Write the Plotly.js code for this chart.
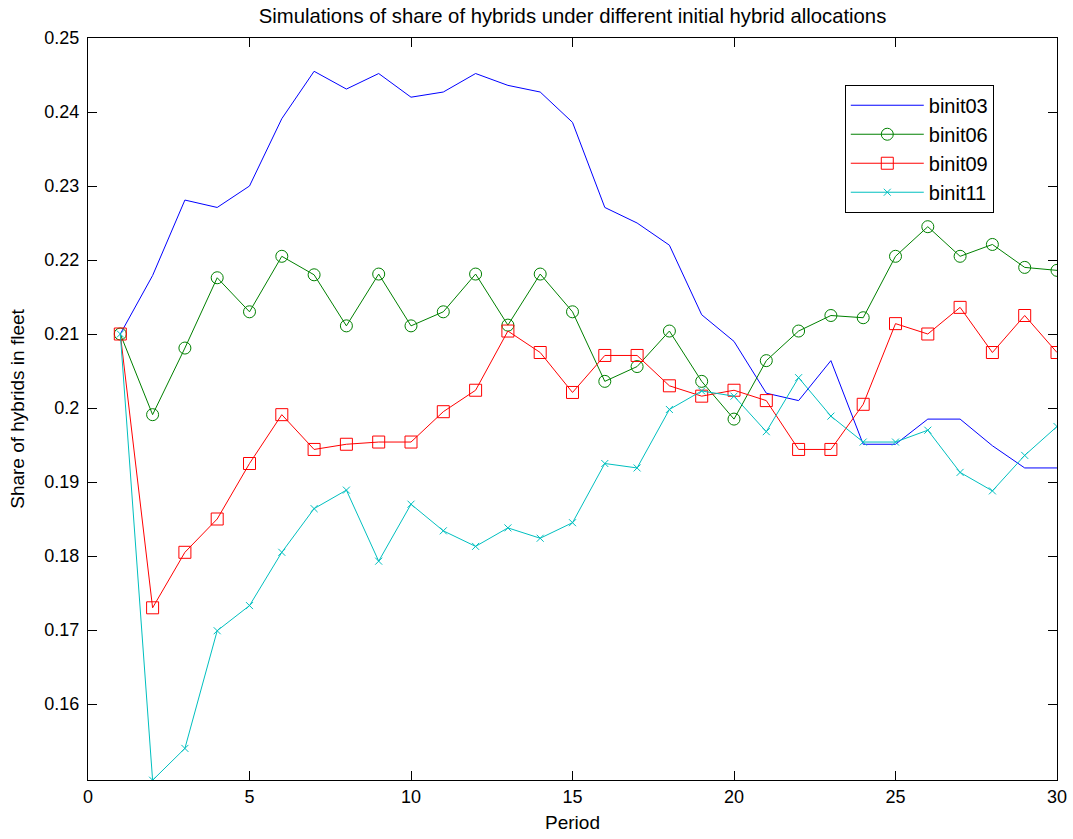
<!DOCTYPE html>
<html>
<head>
<meta charset="utf-8">
<script src="https://cdn.plot.ly/plotly-3.0.1.min.js"></script>
<style>html,body{margin:0;padding:0;background:#fff;} #chart{width:1073px;height:839px;}</style>
</head>
<body>
<div id="chart"></div>
<script>
const period = [1,2,3,4,5,6,7,8,9,10,11,12,13,14,15,16,17,18,19,20,21,22,23,24,25,26,27,28,29,30];
const binit03 = [0.2100,0.2179,0.2281,0.2271,0.2300,0.2391,0.2455,0.2431,0.2452,0.2420,0.2427,0.2452,0.2436,0.2427,0.2386,0.2271,0.2250,0.2220,0.2126,0.2090,0.2020,0.2010,0.2064,0.1951,0.1951,0.1985,0.1985,0.1949,0.1919,0.1919];
const binit06 = [0.2100,0.1991,0.2081,0.2176,0.2130,0.2205,0.2180,0.2111,0.2181,0.2111,0.2130,0.2181,0.2112,0.2181,0.2130,0.2036,0.2056,0.2104,0.2036,0.1985,0.2064,0.2104,0.2125,0.2122,0.2205,0.2245,0.2205,0.2221,0.2190,0.2186];
const binit09 = [0.2100,0.1730,0.1805,0.1850,0.1925,0.1991,0.1944,0.1951,0.1954,0.1954,0.1995,0.2024,0.2104,0.2075,0.2021,0.2071,0.2071,0.2030,0.2016,0.2024,0.2010,0.1944,0.1944,0.2005,0.2114,0.2100,0.2136,0.2075,0.2125,0.2075];
const binit11 = [0.2100,0.1497,0.1540,0.1699,0.1733,0.1805,0.1864,0.1889,0.1793,0.1870,0.1834,0.1813,0.1838,0.1824,0.1845,0.1925,0.1919,0.1998,0.2023,0.2016,0.1968,0.2041,0.1989,0.1954,0.1954,0.1970,0.1913,0.1888,0.1936,0.1975];
const xTicks = [0,5,10,15,20,25,30];
const yTicks = [0.16,0.17,0.18,0.19,0.20,0.21,0.22,0.23,0.24,0.25];
const yTickText = ['0.16','0.17','0.18','0.19','0.2','0.21','0.22','0.23','0.24','0.25'];

const FONT = 'Liberation Sans, Arial, sans-serif';
const traces = [
  {x: period, y: binit03, name: 'binit03', mode: 'lines', line: {color: '#0000FF', width: 1}},
  {x: period, y: binit06, name: 'binit06', mode: 'lines+markers', line: {color: '#008000', width: 1},
   marker: {symbol: 'circle-open', size: 12, color: '#008000', line: {width: 1}}},
  {x: period, y: binit09, name: 'binit09', mode: 'lines+markers', line: {color: '#FF0000', width: 1},
   marker: {symbol: 'square-open', size: 12, color: '#FF0000', line: {width: 1}}},
  {x: period, y: binit11, name: 'binit11', mode: 'lines+markers', line: {color: '#00BFBF', width: 1},
   marker: {symbol: 'x-thin-open', size: 7, color: '#00BFBF', line: {width: 1}}}
];
const axisCommon = {
  showgrid: false, zeroline: false, showline: true, linecolor: '#000', linewidth: 1,
  mirror: 'ticks', ticks: 'inside', ticklen: 9, tickcolor: '#000', tickwidth: 1,
  tickfont: {family: FONT, size: 18, color: '#000'}
};
const layout = {
  width: 1073, height: 839,
  margin: {l: 88, r: 16, t: 38, b: 59},
  paper_bgcolor: '#fff', plot_bgcolor: '#fff',
  title: {text: 'Simulations of share of hybrids under different initial hybrid allocations',
          font: {family: FONT, size: 20.3, color: '#000'}, x: 0.5, xref: 'paper', y: 0.981, yref: 'container', yanchor: 'middle'},
  xaxis: Object.assign({}, axisCommon, {range: [0, 30], tickvals: xTicks, ticktext: xTicks.map(String),
    title: {text: 'Period', font: {family: FONT, size: 19, color: '#000'}, standoff: 10}}),
  yaxis: Object.assign({}, axisCommon, {range: [0.14973, 0.25], tickvals: yTicks, ticktext: yTickText,
    ticklabelstandoff: 4,
    title: {text: 'Share of hybrids in fleet', font: {family: FONT, size: 19, color: '#000'}, standoff: 14}}),
  showlegend: true,
  legend: {x: 0.781, y: 0.937, xanchor: 'left', yanchor: 'top', bgcolor: '#fff', bordercolor: '#000', borderwidth: 1,
           font: {family: FONT, size: 20, color: '#000'}, tracegroupgap: 0, itemwidth: 73}
};
Plotly.newPlot('chart', traces, layout, {displayModeBar: false, staticPlot: true});
</script>
</body>
</html>
